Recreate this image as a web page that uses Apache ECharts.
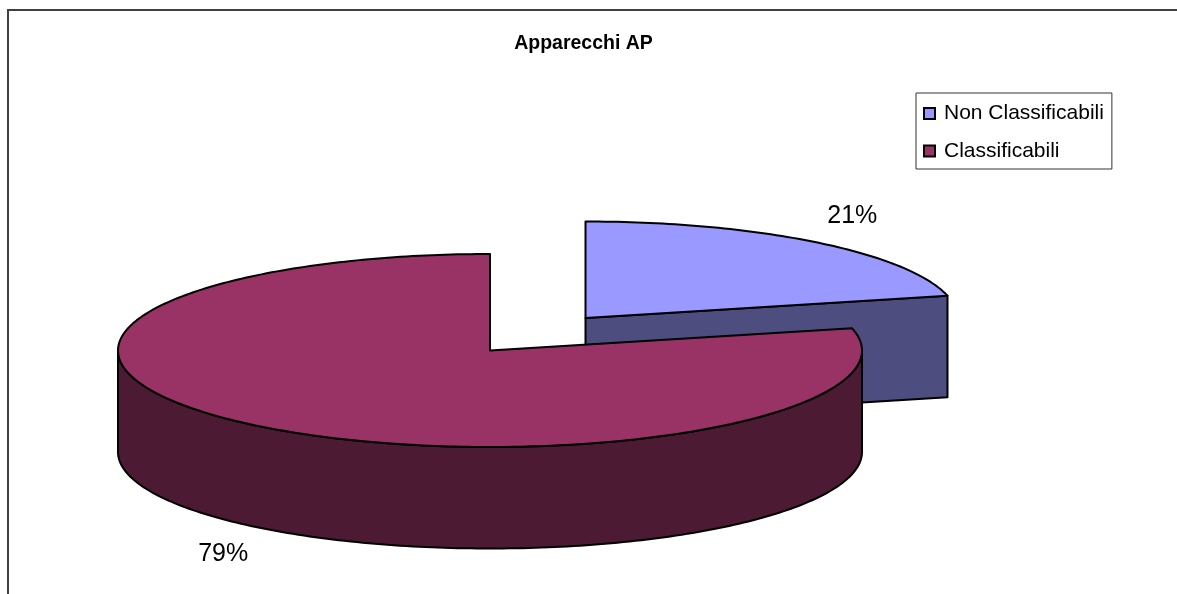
<!DOCTYPE html>
<html>
<head>
<meta charset="utf-8">
<style>
html, body { margin: 0; padding: 0; background: #fff; }
#chart { width: 1177px; height: 594px; }
</style>
<script src="https://cdn.jsdelivr.net/npm/echarts@6/dist/echarts.min.js"></script>
</head>
<body>
<div id="chart"></div>
<script>
// data
const categories = ["Non Classificabili", "Classificabili"];
const shares = [21.3, 78.7];

// pie look
const topColors = ["#9999FF", "#993366"];
const sideColors = ["#4D4D80", "#4D1A33"];
const pieCenter = [490, 350.5];
const explode = [[95.5, -32.5], [0, 0]];
const rx = 372, ry = 96.5, depth = 101.5;

let chart = echarts.init(document.getElementById("chart"));
let total = shares.reduce((a, b) => a + b, 0);

function arcPoints(cx, cy, from, to, dy) {
    let pts = [];
    let steps = Math.max(2, Math.ceil((to - from) / (Math.PI / 180)));
    for (let i = 0; i <= steps; i++) {
        let t = from + (to - from) * i / steps;
        pts.push([cx + rx * Math.sin(t), cy - ry * Math.cos(t) + dy]);
    }
    return pts;
}

function outline(fill) {
    return { fill: fill, stroke: "#000", lineWidth: 2, lineJoin: "round" };
}

function sliceItem(index) {
    // angles go clockwise from 12 o'clock
    let before = shares.slice(0, index).reduce((a, b) => a + b, 0);
    let a = before / total * Math.PI * 2;
    let b = (before + shares[index]) / total * Math.PI * 2;
    let cx = pieCenter[0] + explode[index][0];
    let cy = pieCenter[1] + explode[index][1];
    let children = [];

    // cut face at the clockwise end, seen only if it points at the viewer
    if (Math.sin(b) > 0.001) {
        let p = arcPoints(cx, cy, b, b, 0)[0];
        children.push({
            type: "polygon",
            shape: { points: [[cx, cy], p, [p[0], p[1] + depth], [cx, cy + depth]] },
            style: outline(sideColors[index])
        });
    }

    // outer wall, front half only
    let wallFrom = Math.max(a, Math.PI / 2);
    let wallTo = Math.min(b, Math.PI * 3 / 2);
    if (wallTo > wallFrom) {
        let upper = arcPoints(cx, cy, wallFrom, wallTo, 0);
        let lower = arcPoints(cx, cy, wallFrom, wallTo, depth).reverse();
        children.push({
            type: "polygon",
            shape: { points: upper.concat(lower) },
            style: outline(sideColors[index])
        });
    }

    children.push({
        type: "polygon",
        shape: { points: [[cx, cy]].concat(arcPoints(cx, cy, a, b, 0)) },
        style: outline(topColors[index])
    });

    let mid = (a + b) / 2;
    let lx = cx + rx * Math.sin(mid) + Math.sign(Math.sin(mid)) * 36;
    let ly = cy - ry * Math.cos(mid) - Math.sign(Math.cos(mid)) * 26;
    if (Math.cos(mid) < 0) ly += depth;
    children.push({
        type: "text",
        z2: 10,
        style: {
            x: lx, y: ly,
            text: Math.round(shares[index] / total * 100) + "%",
            fill: "#000",
            font: "25px 'Liberation Sans'",
            align: "center",
            verticalAlign: "middle"
        }
    });
    return { type: "group", children: children };
}

let option = {
    animation: false,
    backgroundColor: "#fff",
    title: {
        text: "Apparecchi AP",
        left: 578.5,
        top: 29,
        textAlign: "center",
        textStyle: { fontFamily: "Liberation Sans", fontSize: 19.5, fontWeight: "bold", color: "#000" }
    },
    legend: {
        orient: "vertical",
        left: 916,
        top: 93,
        data: categories,
        icon: "rect",
        itemWidth: 11,
        itemHeight: 11,
        itemGap: 16.5,
        padding: [10, 8, 7.5, 7],
        borderColor: "#333",
        borderWidth: 1,
        selectedMode: false,
        textStyle: { fontFamily: "Liberation Sans", fontSize: 21, color: "#000", padding: [0, 0, 0, 4] }
    },
    graphic: [{
        type: "polyline",
        shape: { points: [[8, 594], [8, 10], [1177, 10]] },
        style: { fill: null, stroke: "#404040", lineWidth: 2 }
    }],
    series: categories.map((name, i) => ({
        type: "custom",
        name: name,
        coordinateSystem: "none",
        silent: true,
        data: [shares[i]],
        itemStyle: { color: topColors[i], borderColor: "#000", borderWidth: 2 },
        renderItem: () => sliceItem(i)
    }))
};
chart.setOption(option);
</script>
</body>
</html>
